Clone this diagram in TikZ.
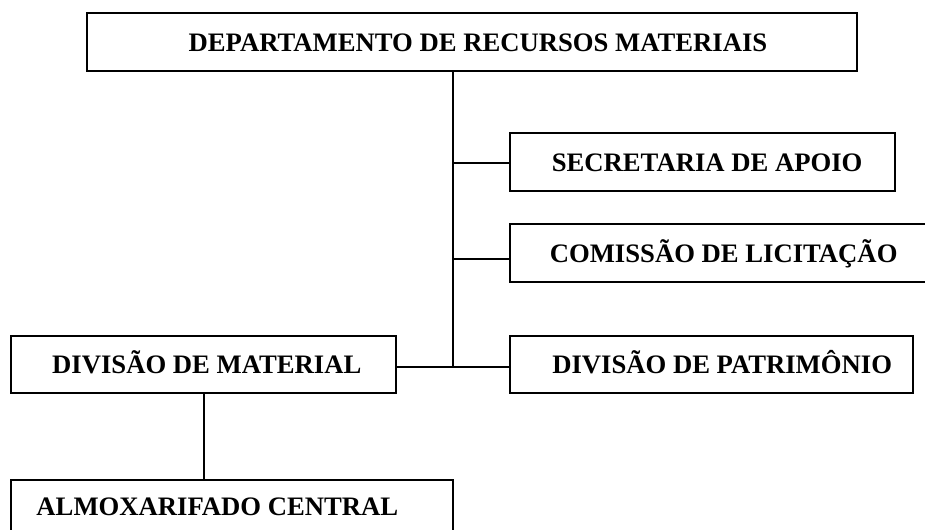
\documentclass[tikz,border=0pt]{standalone}
\usepackage{fontspec}
\setmainfont{Liberation Serif}
\begin{document}
\begin{tikzpicture}[x=0.75pt,y=-0.75pt,
  box/.style={draw=black,line width=1.6pt,inner sep=0pt,text height=14pt,text depth=0pt,
    font=\fontsize{20}{24}\selectfont\bfseries},
  link/.style={draw=black,line width=1.5pt}]
\useasboundingbox (0,0) rectangle (925,530);
\clip (0,0) rectangle (925,530);
\node[box,minimum width=577.5pt,minimum height=43.5pt] (top) at (472,42) {\hspace*{9pt}DEPARTAMENTO DE RECURSOS MATERIAIS};
\node[box,minimum width=288.75pt,minimum height=43.5pt] (sec) at (702.5,162) {\hspace*{7pt}SECRETARIA DE APOIO};
\node[box,minimum width=313.5pt,minimum height=43.5pt] (com) at (719,253) {\hspace*{7pt}COMISSÃO DE LICITAÇÃO};
\node[box,minimum width=302.25pt,minimum height=42.75pt] (pat) at (711.5,364.5) {\hspace*{16pt}DIVISÃO DE PATRIMÔNIO};
\node[box,minimum width=288.75pt,minimum height=42.75pt] (mat) at (203.5,364.5) {\hspace*{5pt}DIVISÃO DE MATERIAL};
\node[box,minimum width=331.5pt,minimum height=39pt] (alm) at (232,506) {ALMOXARIFADO CENTRAL\hspace*{22pt}};
\coordinate (trunk) at (453,367);
\draw[link] (top.south -| trunk) -- (trunk);
\draw[link] ([yshift=-0.75pt]sec.west) -- ([yshift=-0.75pt]sec.west -| trunk);
\draw[link] ([yshift=-4.5pt]com.west) -- ([yshift=-4.5pt]com.west -| trunk);
\draw[link] ([yshift=-1.9pt]mat.east) -- ([yshift=-1.9pt]pat.west);
\draw[link] (mat.south) -- (mat.south |- alm.north);
\end{tikzpicture}
\end{document}
